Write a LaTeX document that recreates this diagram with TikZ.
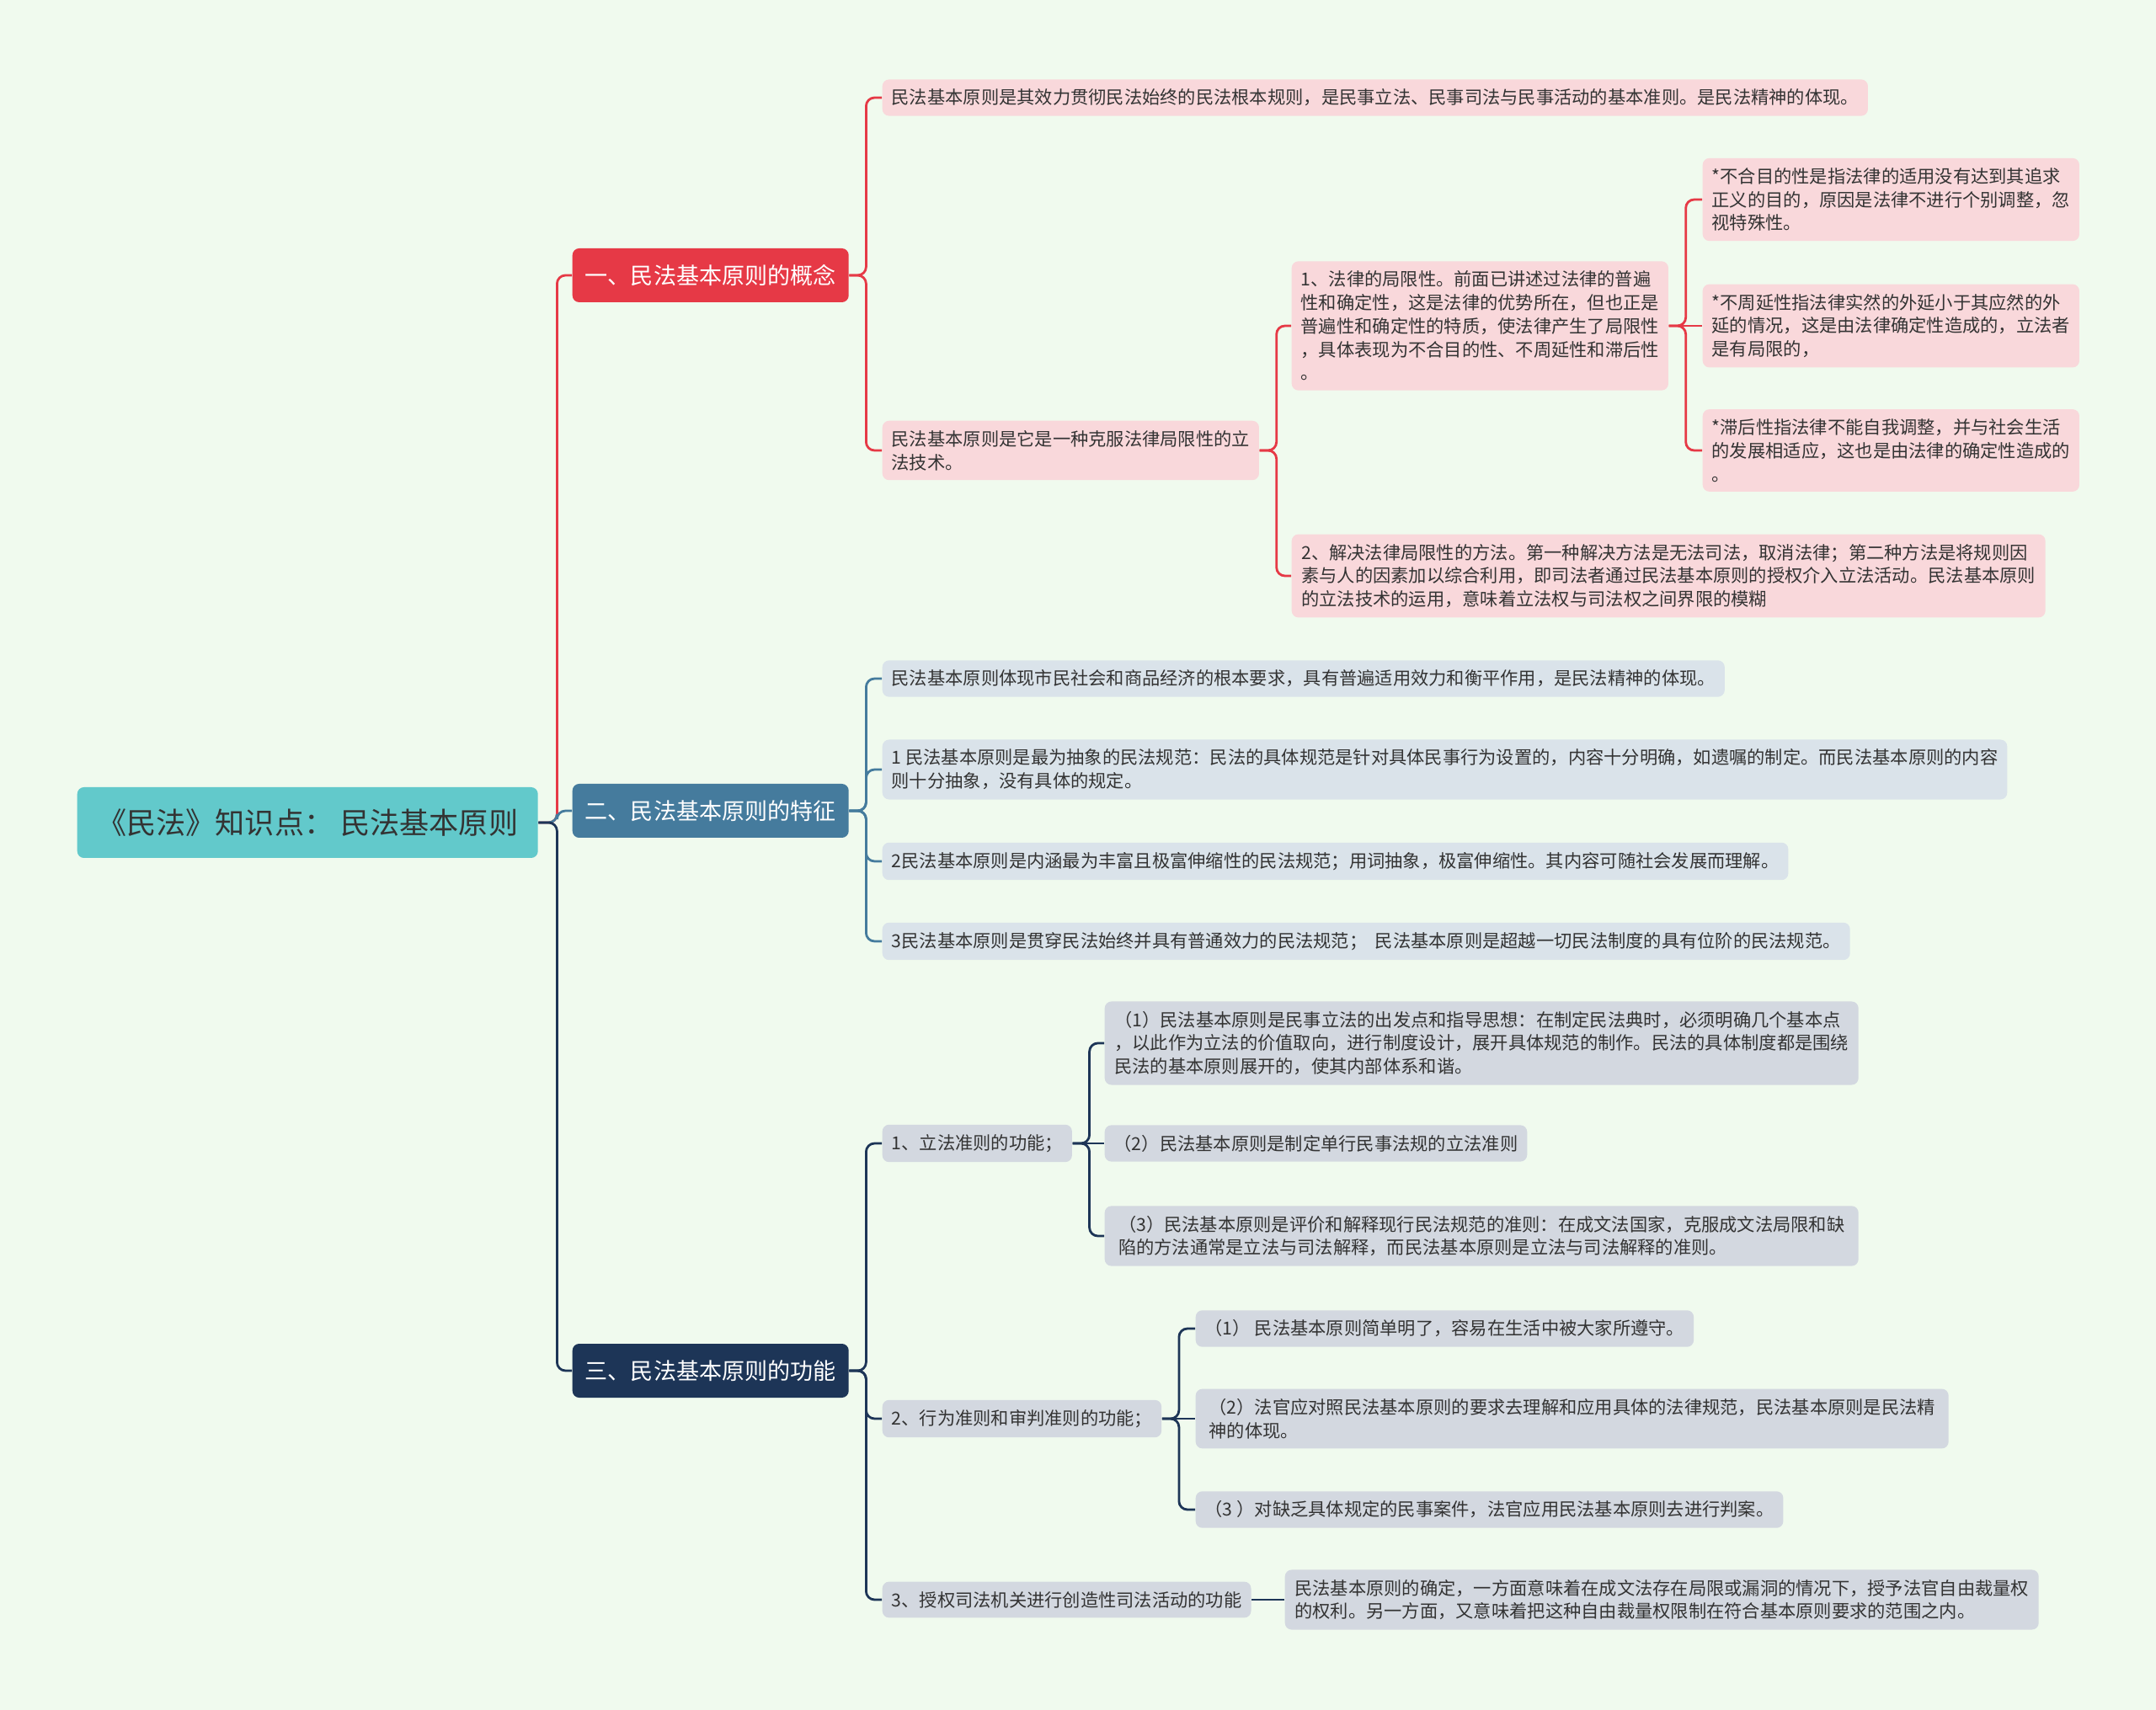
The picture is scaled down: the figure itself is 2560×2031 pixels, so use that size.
\documentclass[tikz,border=0pt]{standalone}
\usepackage{fontspec}
\setmainfont{Noto Sans CJK SC}
\usetikzlibrary{positioning}
\definecolor{bgc}{HTML}{F0FAEE}
\definecolor{rootc}{HTML}{62C9CB}
\definecolor{redc}{HTML}{E63946}
\definecolor{bluec}{HTML}{457B9D}
\definecolor{navyc}{HTML}{1D3557}
\definecolor{pinkleaf}{HTML}{F9D8DB}
\definecolor{blueleaf}{HTML}{DAE3EA}
\definecolor{navyleaf}{HTML}{D3D8E0}
\definecolor{txt}{HTML}{333333}

\begin{document}
\begin{tikzpicture}[x=0.1mm, y=-0.1mm,
  every node/.style={anchor=west, align=left, rounded corners=0.8mm, inner xsep=1.1mm, inner ysep=1.15mm,
    text=txt, font=\fontsize{6.05pt}{7.9pt}\selectfont},
  rootbox/.style={fill=rootc, align=center, minimum width=54.7mm, minimum height=8.4mm,
    font=\fontsize{10pt}{12pt}\selectfont},
  mainbox/.style={fill=#1, text=white, align=center, minimum width=32.8mm, minimum height=6.4mm,
    font=\fontsize{7.7pt}{9pt}\selectfont},
  pinkbox/.style={fill=pinkleaf},
  bluebox/.style={fill=blueleaf},
  navybox/.style={fill=navyleaf},
  link/.style={draw=#1, line width=0.28mm, rounded corners=1mm}]
\path[fill=bgc] (0,0) rectangle (2560,2031);

% root and main branches
\node[rootbox] (root) at (91,977) {《民法》知识点： 民法基本原则};
\node[mainbox=redc] (br1) at (679,327) {一、民法基本原则的概念};
\node[mainbox=bluec] (br2) at (679,963) {二、民法基本原则的特征};
\node[mainbox=navyc] (br3) at (679,1628) {三、民法基本原则的功能};

% branch 1
\node[pinkbox] (a1) at (1047,116) {民法基本原则是其效力贯彻民法始终的民法根本规则，是民事立法、民事司法与民事活动的基本准则。是民法精神的体现。};
\node[pinkbox] (a2) at (1047,535) {民法基本原则是它是一种克服法律局限性的立\\法技术。};
\node[pinkbox] (a21) at (1533,387) {1、法律的局限性。前面已讲述过法律的普遍\\性和确定性，这是法律的优势所在，但也正是\\普遍性和确定性的特质，使法律产生了局限性\\，具体表现为不合目的性、不周延性和滞后性\\。};
\node[pinkbox, minimum width=44.6mm] (a211) at (2021,237) {*不合目的性是指法律的适用没有达到其追求\\正义的目的，原因是法律不进行个别调整，忽\\视特殊性。};
\node[pinkbox, minimum width=44.6mm] (a212) at (2021,387) {*不周延性指法律实然的外延小于其应然的外\\延的情况，这是由法律确定性造成的，立法者\\是有局限的，};
\node[pinkbox, minimum width=44.6mm] (a213) at (2021,535) {*滞后性指法律不能自我调整，并与社会生活\\的发展相适应，这也是由法律的确定性造成的\\。};
\node[pinkbox, minimum width=89.5mm] (a22) at (1533,684) {2、解决法律局限性的方法。第一种解决方法是无法司法，取消法律；第二种方法是将规则因\\素与人的因素加以综合利用，即司法者通过民法基本原则的授权介入立法活动。民法基本原则\\的立法技术的运用，意味着立法权与司法权之间界限的模糊};

% branch 2
\node[bluebox] (b1) at (1047,806) {民法基本原则体现市民社会和商品经济的根本要求，具有普遍适用效力和衡平作用，是民法精神的体现。};
\node[bluebox] (b2) at (1047,914) {1 民法基本原则是最为抽象的民法规范：民法的具体规范是针对具体民事行为设置的，内容十分明确，如遗嘱的制定。而民法基本原则的内容\\则十分抽象，没有具体的规定。};
\node[bluebox] (b3) at (1047,1023) {2民法基本原则是内涵最为丰富且极富伸缩性的民法规范；用词抽象，极富伸缩性。其内容可随社会发展而理解。};
\node[bluebox] (b4) at (1047,1118) {3民法基本原则是贯穿民法始终并具有普通效力的民法规范；\ \ 民法基本原则是超越一切民法制度的具有位阶的民法规范。};

% branch 3
\node[navybox] (c1) at (1047,1358) {1、立法准则的功能；};
\node[navybox, minimum width=89.5mm] (c11) at (1311,1239) {（1）民法基本原则是民事立法的出发点和指导思想：在制定民法典时，必须明确几个基本点\\，以此作为立法的价值取向，进行制度设计，展开具体规范的制作。民法的具体制度都是围绕\\民法的基本原则展开的，使其内部体系和谐。};
\node[navybox] (c12) at (1311,1358) {（2）民法基本原则是制定单行民事法规的立法准则};
\node[navybox, minimum width=89.5mm] (c13) at (1311,1468) {（3）民法基本原则是评价和解释现行民法规范的准则：在成文法国家，克服成文法局限和缺\\陷的方法通常是立法与司法解释，而民法基本原则是立法与司法解释的准则。};
\node[navybox] (c2) at (1047,1685) {2、行为准则和审判准则的功能；};
\node[navybox] (c21) at (1419,1578) {（1） 民法基本原则简单明了，容易在生活中被大家所遵守。};
\node[navybox, minimum width=89.4mm] (c22) at (1419,1685) {（2）法官应对照民法基本原则的要求去理解和应用具体的法律规范，民法基本原则是民法精\\神的体现。};
\node[navybox] (c23) at (1419,1793) {（3 ）对缺乏具体规定的民事案件，法官应用民法基本原则去进行判案。};
\node[navybox] (c3) at (1047,1900) {3、授权司法机关进行创造性司法活动的功能};
\node[navybox, minimum width=89.5mm] (c31) at (1525,1900) {民法基本原则的确定，一方面意味着在成文法存在局限或漏洞的情况下，授予法官自由裁量权\\的权利。另一方面，又意味着把这种自由裁量权限制在符合基本原则要求的范围之内。};

% connectors
\draw[link=redc] (root.east) -- ++(22,0) |- (br1.west);
\draw[link=bluec] (root.east) -- ++(22,0) |- (br2.west);
\draw[link=navyc] (root.east) -- ++(22,0) |- (br3.west);
\foreach \p/\c in {br1/a1, br1/a2, a2/a21, a2/a22, a21/a211, a21/a213}
  \draw[link=redc] (\p.east) -- ++(20,0) |- (\c.west);
\draw[link=redc] (a21.east) -- (a212.west);
\foreach \c in {b1, b2, b3, b4}
  \draw[link=bluec] (br2.east) -- ++(20,0) |- (\c.west);
\foreach \p/\c in {br3/c1, br3/c2, br3/c3, c1/c11, c1/c13, c2/c21, c2/c23}
  \draw[link=navyc] (\p.east) -- ++(20,0) |- (\c.west);
\foreach \p/\c in {c1/c12, c2/c22, c3/c31}
  \draw[link=navyc] (\p.east) -- (\c.west);
\end{tikzpicture}
\end{document}
